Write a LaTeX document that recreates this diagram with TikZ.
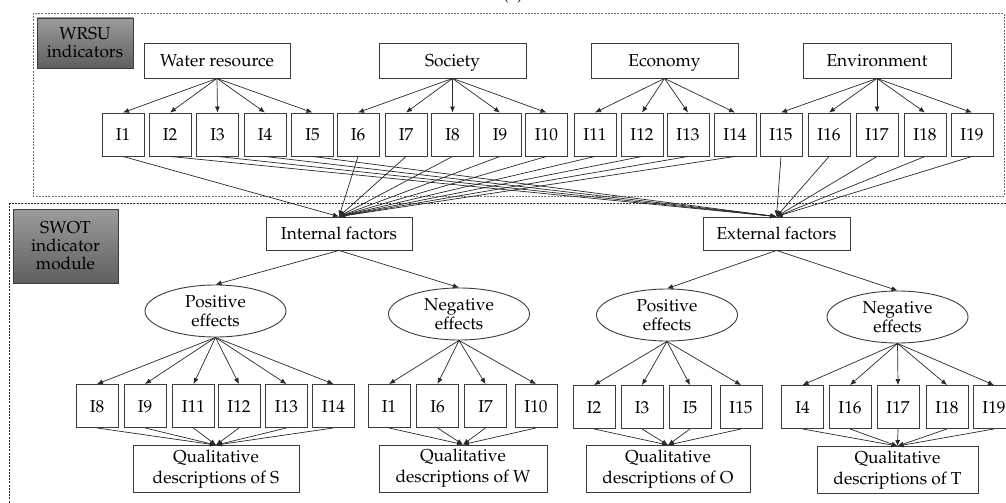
\documentclass[tikz,border=0pt]{standalone}
\usepackage[T1]{fontenc}
\usepackage{mathpazo}
\usetikzlibrary{shapes.geometric,arrows.meta}

\definecolor{boxline}{RGB}{60,60,60}
\definecolor{edgecol}{RGB}{40,40,40}
\definecolor{frameA}{RGB}{110,110,110}
\definecolor{frameB}{RGB}{40,40,40}
\definecolor{tagtop}{RGB}{155,155,155}
\definecolor{tagbot}{RGB}{95,95,95}

\begin{document}
\begin{tikzpicture}[x=1pt,y=-1pt,
  every node/.style={font=\fontsize{17.3}{21}\selectfont, text=black},
  box/.style={draw=boxline, line width=0.9pt, fill=white, inner sep=0pt, align=center},
  oneline/.style={text height=12.5pt, text depth=0pt},
  ibox/.style={box, oneline, minimum width=42, minimum height=43},
  catbox/.style={box, oneline, minimum width=147, minimum height=35},
  facbox/.style={box, oneline, minimum width=146, minimum height=33},
  qbox/.style={box, minimum width=165, minimum height=47},
  effect/.style={draw=boxline, line width=0.9pt, fill=white, ellipse, inner sep=0pt,
                 minimum width=141, minimum height=52, align=center},
  tag/.style={draw=boxline, line width=0.9pt, top color=tagtop, bottom color=tagbot,
              inner sep=0pt, align=center},
  arr/.style={draw=edgecol, line width=0.7pt, -{Latex[length=6pt,width=5pt]}},
  frame/.style={dash pattern=on 2pt off 1.2pt, line width=0.8pt}
]
\useasboundingbox (0,0) rectangle (1006,503);

% caption fragment at the top edge
\node[anchor=base, inner sep=0pt] (cap) at (513,0) {(a)};

% module frames
\draw[frame, draw=frameA] (33,13) rectangle (1004,196);
\draw[frame, draw=frameB] (9,203) rectangle (1030,530);

% module tags
\node[tag, minimum width=96, minimum height=50] (wrsu) at (85,43) {WRSU\\[-3pt]indicators};
\node[tag, minimum width=105, minimum height=74] (swot) at (65.5,246) {SWOT\\[-3pt]indicator\\[-3pt]module};

% indicator categories
\node[catbox, minimum width=146] (water) at (217,60.5) {Water resource};
\node[catbox] (soc) at (452.5,60.5) {Society};
\node[catbox] (eco) at (664.5,60.5) {Economy};
\node[catbox, minimum width=148] (env) at (877,60.5) {Environment};

% indicators I1..I19
\foreach \i/\x in {1/123,2/170,3/217.5,4/265,5/312.5,6/358,7/406,8/452.5,9/500,10/546.5,
                   11/595,12/642,13/688,14/735,15/781,16/829,17/877,18/925,19/972}
  \node[ibox] (t\i) at (\x,134.5) {I\i};

\foreach \i in {1,...,5}   \draw[arr] (water.south) -- (t\i.north);
\foreach \i in {6,...,10}  \draw[arr] (soc.south) -- (t\i.north);
\foreach \i in {11,...,14} \draw[arr] (eco.south) -- (t\i.north);
\foreach \i in {15,...,19} \draw[arr] (env.south) -- (t\i.north);

% internal / external factors
\node[facbox] (int) at (339,233.5) {Internal factors};
\node[facbox, minimum width=147] (ext) at (776.5,233.5) {External factors};

\foreach \i in {1,6,7,8,9,10,11,12,13,14} \draw[arr] (t\i.south) -- (int.north);
\foreach \i in {2,3,4,5,15,16,17,18,19}  \draw[arr] (t\i.south) -- (ext.north);

% effects
\node[effect] (ps) at (215.5,311) {Positive\\[-2pt]effects};
\node[effect] (nw) at (459,314) {Negative\\[-2pt]effects};
\node[effect] (po) at (667,315) {Positive\\[-2pt]effects};
\node[effect] (nt) at (897.5,317) {Negative\\[-2pt]effects};

\draw[arr] (int.south) -- (ps.north);
\draw[arr] (int.south) -- (nw.north);
\draw[arr] (ext.south) -- (po.north);
\draw[arr] (ext.south) -- (nt.north);

% SWOT indicator groups
\foreach \i/\x in {8/97,9/145,11/193.5,12/239,13/286.5,14/333.5}
  \node[ibox] (s\i) at (\x,406) {I\i};
\foreach \i/\x in {1/389,6/437.5,7/485.5,10/536}
  \node[ibox] (w\i) at (\x,406) {I\i};
\foreach \i/\x in {2/594,3/642,5/690,15/741}
  \node[ibox] (o\i) at (\x,407) {I\i};
\foreach \i/\x in {4/802.5,16/850,17/898,18/947,19/994}
  \node[ibox] (h\i) at (\x,407) {I\i};

% qualitative descriptions
\node[qbox, minimum width=166] (qs) at (216,469) {Qualitative\\descriptions of S};
\node[qbox, minimum width=168] (qw) at (463,468.5) {Qualitative\\descriptions of W};
\node[qbox, minimum width=164] (qo) at (668,469) {Qualitative\\descriptions of O};
\node[qbox, minimum width=161] (qt) at (897.5,470) {Qualitative\\descriptions of T};

\foreach \i in {8,9,11,12,13,14} {\draw[arr] (ps.south) -- (s\i.north); \draw[arr] (s\i.south) -- (qs.north);}
\foreach \i in {1,6,7,10}        {\draw[arr] (nw.south) -- (w\i.north); \draw[arr] (w\i.south) -- (qw.north);}
\foreach \i in {2,3,5,15}        {\draw[arr] (po.south) -- (o\i.north); \draw[arr] (o\i.south) -- (qo.north);}
\foreach \i in {4,16,17,18,19}   {\draw[arr] (nt.south) -- (h\i.north); \draw[arr] (h\i.south) -- (qt.north);}
\end{tikzpicture}
\end{document}
